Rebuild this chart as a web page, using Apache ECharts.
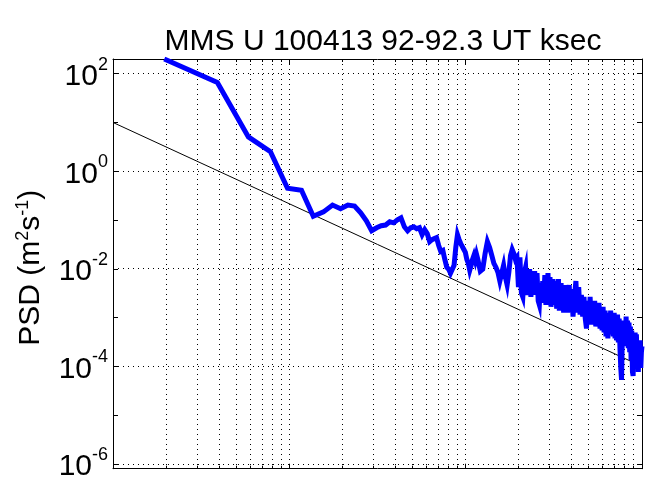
<!DOCTYPE html>
<html>
<head>
<meta charset="utf-8">
<script src="https://cdn.jsdelivr.net/npm/echarts@6/dist/echarts.min.js"></script>
<style>
  html, body { margin: 0; padding: 0; background: #fff; }
  #chart { width: 660px; height: 482px; }
</style>
</head>
<body>
<div id="chart"></div>
<script>
// Velocity power spectral density, MMS U, 2010-04-13, 92-92.3 ksec UT
const chartTitle = 'MMS U 100413 92-92.3 UT ksec';

// Frequency resolution of the spectrum (Hz); bins are harmonics of df
const df = 1 / 512;

// Harmonic numbers of the plotted bins
const harmonic = [
  1, 2, 3, 4, 5, 6, 7, 8, 9, 10, 11, 12, 13, 14, 15, 16, 17, 18, 19, 20,
  21, 22, 23, 24, 25, 26, 27, 28, 29, 30, 31, 32, 33, 34, 35, 36, 37, 38, 39, 40,
  41, 42, 43, 44, 45, 46, 47, 48, 49, 50, 51, 52, 53, 54, 55, 56, 57, 58, 59, 60,
  62, 64, 66, 68, 70, 72, 74, 76, 78, 80, 82, 84, 86, 88, 90, 92, 94, 96, 98, 100,
  102, 104, 106, 108, 110, 112, 114, 116, 118, 120, 122, 124, 126, 128, 130, 132,
  134, 136, 138, 140, 142, 144, 146, 148, 150, 152, 154, 156, 158, 160, 162, 164,
  166, 168, 170, 172, 174, 176, 178, 180, 182, 184, 186, 188, 190, 192, 194, 196,
  198, 200,
  204, 208, 212, 216, 220, 224, 228, 232, 236, 240, 244, 248, 252, 256, 260, 264,
  268, 272, 276, 280, 284, 288, 292, 296, 300, 304, 308, 312, 316, 320, 324, 328,
  332, 336, 340, 344, 348, 352, 356, 360, 364, 368, 372, 376, 380, 384, 388, 392,
  396, 400, 404, 408, 412, 416, 420, 424, 428, 432, 436, 440, 444, 448, 452, 456,
  460, 464, 468, 472, 476, 480, 484, 488, 492, 496, 500, 504, 508, 512
];

// PSD (m^2 s^-1) at each harmonic
const psd = [
  // 1-20
  200, 65.8, 5.06, 2.52, 0.449, 0.409, 0.12, 0.147, 0.203, 0.17,
  0.203, 0.194, 0.140, 0.096, 0.0604, 0.0695, 0.0763, 0.079, 0.092, 0.0877,
  // 21-40
  0.101, 0.111, 0.0728, 0.0604, 0.0695, 0.0728, 0.0664, 0.0695, 0.0501, 0.0634,
  0.0526, 0.0362, 0.0397, 0.0416, 0.0436, 0.0301, 0.0227, 0.0238, 0.0156, 0.0108,
  // 41-60
  0.00982, 0.00815, 0.00742, 0.0118, 0.0274, 0.0501, 0.0397, 0.0330, 0.0301, 0.0249,
  0.0217, 0.0156, 0.0130, 0.00937, 0.0118, 0.0156, 0.0188, 0.0149, 0.0198, 0.0156,
  // 62-100
  0.00894, 0.00982, 0.0207, 0.0362, 0.0274, 0.0188, 0.0130, 0.0108, 0.00853, 0.00561,
  0.00815, 0.0118, 0.00676, 0.00466, 0.00853, 0.0188, 0.0249, 0.0207, 0.0156, 0.0172,
  // 102-200
  0.00424, 0.0172, 0.00321, 0.00266, 0.00815, 0.0108, 0.00292, 0.00466, 0.00982, 0.00266,
  0.00615, 0.00292, 0.00894, 0.00424, 0.00815, 0.00221, 0.00183, 0.00512, 0.00201, 0.00561,
  0.00266, 0.00742, 0.00183, 0.00386, 0.00815, 0.00201, 0.00676, 0.00167, 0.00321, 0.00615,
  0.00183, 0.00424, 0.00561, 0.00152, 0.00321, 0.00615, 0.00139, 0.00266, 0.00512, 0.00152,
  0.00424, 0.00126, 0.00466, 0.00221, 0.00139, 0.00424, 0.00126, 0.00321, 0.00466, 0.00139,
  // 204-512
  0.00386, 0.00105, 0.00266, 0.00561, 0.00126, 0.00424, 0.00115, 0.00292, 0.00105, 0.00266,
  0.000955, 0.000598, 0.00221, 0.000722, 0.00266, 0.000793, 0.00201, 0.000722, 0.00221, 0.000658,
  0.00183, 0.000658, 0.00201, 0.000598, 0.00152, 0.000546, 0.00167, 0.000497, 0.00139, 0.000412,
  0.00126, 0.000376, 0.00115, 0.000453, 0.00139, 0.000497, 0.00115, 0.000412, 0.00126, 0.000376,
  0.00105, 0.000342, 0.00115, 0.000312, 0.000955, 0.000236, 0.0000929, 0.0000531, 0.000412, 0.000869,
  0.000284, 0.000793, 0.000259, 0.00105, 0.000312, 0.000869, 0.000236, 0.000793, 0.000196, 0.000658,
  0.000135, 0.000546, 0.0000771, 0.0000640, 0.000412, 0.000163, 0.000497, 0.000135, 0.000453, 0.0000929,
  0.000342, 0.0000771, 0.000312, 0.000112, 0.000342, 0.0000929, 0.000196, 0.000259
];

// f^(-5/3) reference slope
const refFreq = [0.001, 1];
const refPsd = [10, 1e-4];

// Axis extents
const freqRange = [0.001, 1];
const psdRange = [8e-7, 200];

// Labelled decades (exponents) and dotted grid levels
const labelledExp = [2, 0, -2, -4, -6];
const gridPsd = [1e2, 1, 1e-2, 1e-4, 1e-6];
const decadeFreq = [0.01, 0.1];
const minorFreq = [
  0.002, 0.003, 0.004, 0.005, 0.006, 0.007, 0.008, 0.009,
  0.02, 0.03, 0.04, 0.05, 0.06, 0.07, 0.08, 0.09,
  0.2, 0.3, 0.4, 0.5, 0.6, 0.7, 0.8, 0.9
];

const FONT = 'Liberation Sans, Arial, Helvetica, sans-serif';
const chart = echarts.init(document.getElementById('chart'), null, { renderer: 'canvas' });

const crisp = v => Math.round(v - 0.5) + 0.5;

// Dotted vertical grid line with short inner ticks on the top and bottom frame
function vGrid(params, api) {
  const cs = params.coordSys;
  const x = crisp(api.coord([api.value(0), 1])[0]);
  const top = cs.y, bottom = cs.y + cs.height;
  const tl = api.value(2) ? 5 : 3;
  return {
    type: 'group',
    children: [
      { type: 'line', shape: { x1: x, y1: top, x2: x, y2: bottom },
        style: { stroke: '#000', lineWidth: 1, lineDash: [1, 4] } },
      { type: 'line', shape: { x1: x, y1: top, x2: x, y2: top + tl },
        style: { stroke: '#000', lineWidth: 1 } },
      { type: 'line', shape: { x1: x, y1: bottom, x2: x, y2: bottom - tl },
        style: { stroke: '#000', lineWidth: 1 } }
    ]
  };
}

// Dotted horizontal grid line at a labelled decade
function hGrid(params, api) {
  const cs = params.coordSys;
  const y = crisp(api.coord([0.01, api.value(1)])[1]);
  return {
    type: 'line',
    shape: { x1: cs.x, y1: y, x2: cs.x + cs.width, y2: y },
    style: { stroke: '#000', lineWidth: 1, lineDash: [1, 4] }
  };
}

const yLabel = v => {
  const lg = Math.log10(v);
  const e = Math.round(lg);
  if (Math.abs(lg - e) > 1e-6 || labelledExp.indexOf(e) < 0) return '';
  return '{b|10}{s|' + e + '}';
};

const tickRich = {
  b: { fontFamily: FONT, fontSize: 30, color: '#000', lineHeight: 36, verticalAlign: 'bottom' },
  s: { fontFamily: FONT, fontSize: 18, color: '#000', lineHeight: 36, verticalAlign: 'top' }
};

const vGridData = decadeFreq.map(f => [f, 1, 1]).concat(minorFreq.map(f => [f, 1, 0]));

chart.setOption({
  animation: false,
  backgroundColor: '#fff',
  title: {
    text: chartTitle,
    left: 378,
    textAlign: 'center',
    top: 22,
    textStyle: { fontFamily: FONT, fontSize: 30, fontWeight: 'normal', color: '#000' }
  },
  grid: { left: 113, top: 59, right: 18, bottom: 8, containLabel: false },
  xAxis: [
    {
      type: 'log', logBase: 10, min: freqRange[0], max: freqRange[1], position: 'bottom',
      axisLine: { show: true, lineStyle: { color: '#000', width: 1 } },
      axisTick: { show: false }, axisLabel: { show: false }, splitLine: { show: false }
    },
    {
      type: 'log', logBase: 10, min: freqRange[0], max: freqRange[1], position: 'top',
      axisLine: { show: true, lineStyle: { color: '#000', width: 1 } },
      axisTick: { show: false }, axisLabel: { show: false }, splitLine: { show: false }
    }
  ],
  yAxis: [
    {
      type: 'log', logBase: 10, min: psdRange[0], max: psdRange[1], position: 'left',
      name: 'PSD (m{s|2}s{s|-1})',
      nameLocation: 'middle', nameRotate: 90, nameGap: 64,
      nameTextStyle: {
        fontFamily: FONT, fontSize: 30, color: '#000', lineHeight: 34,
        padding: [0, 8, 0, 0],
        rich: {
          s: { fontFamily: FONT, fontSize: 18, color: '#000', verticalAlign: 'top', lineHeight: 34 }
        }
      },
      axisLine: { show: true, lineStyle: { color: '#000', width: 1 } },
      axisTick: { show: true, inside: true, length: 5, lineStyle: { color: '#000' } },
      axisLabel: { show: true, margin: 5, formatter: yLabel, rich: tickRich },
      splitLine: { show: false }
    },
    {
      type: 'log', logBase: 10, min: psdRange[0], max: psdRange[1], position: 'right',
      axisLine: { show: true, lineStyle: { color: '#000', width: 1 } },
      axisTick: { show: true, inside: true, length: 5, lineStyle: { color: '#000' } },
      axisLabel: { show: false }, splitLine: { show: false }
    }
  ],
  series: [
    {
      type: 'custom', renderItem: vGrid, data: vGridData,
      encode: { x: 0, y: 1 }, silent: true, z: 1, clip: false
    },
    {
      type: 'custom', renderItem: hGrid, data: gridPsd.map(p => [0.01, p]),
      encode: { x: 0, y: 1 }, silent: true, z: 1, clip: false
    },
    {
      type: 'line', name: 'f^-5/3',
      data: refFreq.map((f, i) => [f, refPsd[i]]),
      showSymbol: false, symbol: 'none',
      lineStyle: { color: '#000', width: 1 }, z: 3, silent: true
    },
    {
      type: 'line', name: 'PSD',
      data: harmonic.map((n, i) => [n * df, psd[i]]),
      showSymbol: false, symbol: 'none', clip: true,
      lineStyle: { color: '#0000ff', width: 5, join: 'miter' }, z: 4, silent: true
    }
  ]
});
</script>
</body>
</html>
